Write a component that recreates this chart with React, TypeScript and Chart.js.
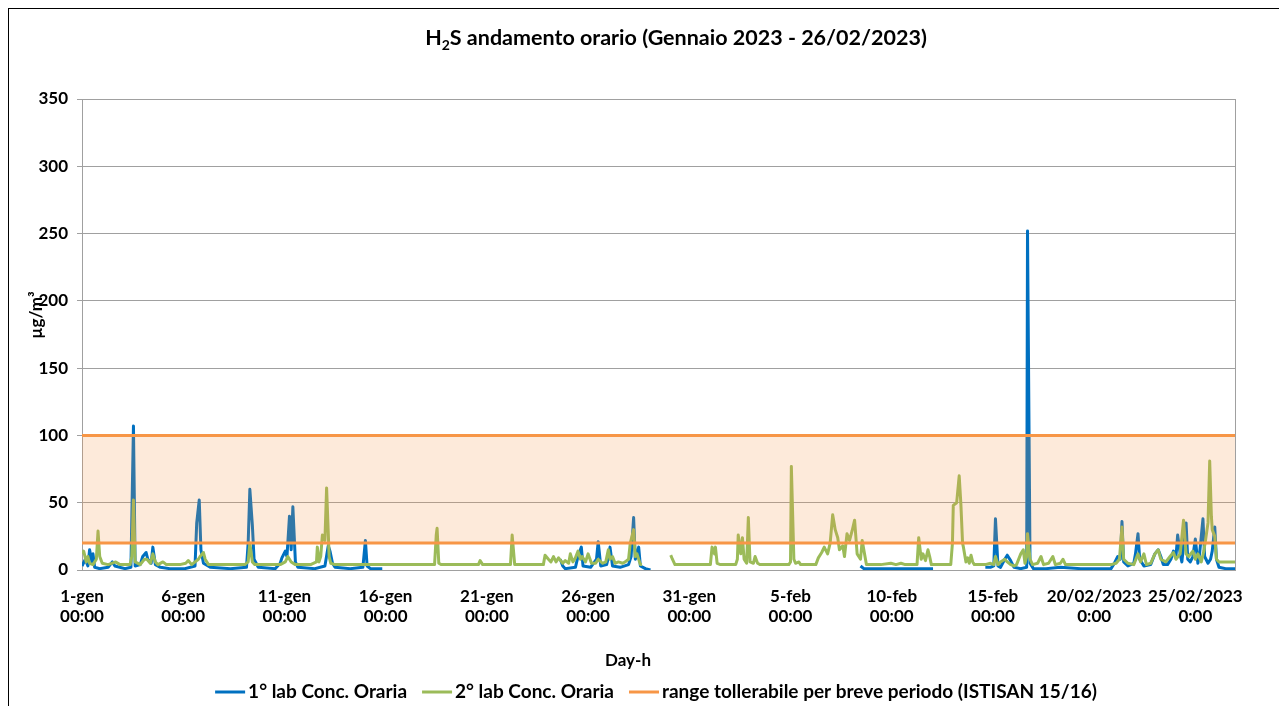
import { useEffect, useRef } from "react";
import { Chart, registerables } from "chart.js";

Chart.register(...registerables);

const FONT = "Lato, 'Open Sans', sans-serif";
const GRID = "#a0a0a0";
const BLUE = "#0070C0";
const GREEN = "#9BBB59";
const ORANGE = "#F79646";
const BAND = "rgba(247,150,70,0.2)";

const titleMain = "H";
const titleSub = "2";
const titleRest = "S andamento orario (Gennaio 2023 - 26/02/2023)";
const yTitle = "µg/m³";
const xTitle = "Day-h";

const seriesLabels = [
  "1° lab Conc. Oraria",
  "2° lab Conc. Oraria",
  "range tollerabile per breve periodo (ISTISAN 15/16)",
];

const tickHours = [0, 120, 240, 360, 480, 600, 720, 840, 960, 1080, 1200, 1320];
const tickLabelsTop = ["1-gen", "6-gen", "11-gen", "16-gen", "21-gen", "26-gen", "31-gen", "5-feb", "10-feb", "15-feb", "20/02/2023", "25/02/2023"];
const tickLabelsBottom = ["00:00", "00:00", "00:00", "00:00", "00:00", "00:00", "00:00", "00:00", "00:00", "00:00", "0:00", "0:00"];

const hourMax = 1367;
const rangeLow = 20;
const rangeHigh = 100;

// 1° lab (hours since 1-gen 00:00, null = missing)
const blueHours = [
  0, 4, 7, 9, 12, 13, 15, 21, 31, 36, 39, 51, 58, 61, 63, 69, 72, 76, 78, 82,
  84, 87, 93, 104, 122, 134, 136, 139, 141, 144, 152, 176, 195, 197, 199, 202, 204, 209, 229, 235,
  237, 241, 243, 246, 248, 250, 253, 256, 276, 288, 292, 294, 297, 300, 318, 333, 336, 338, 342, 356, 360,
  567, 570, 573, 585, 588, 592, 594, 603, 610, 612, 615, 622, 624, 626, 629, 638, 648, 651, 654, 656,
  660, 662, 668, 674, 678,
  923, 927, 959, 982, 1009, 1012,
  1071, 1077, 1081, 1083, 1086, 1089, 1094, 1097, 1101, 1105, 1113, 1120, 1121, 1124, 1128, 1143, 1160, 1184, 1220, 1224,
  1228, 1231, 1233, 1235, 1240, 1247, 1249, 1252, 1254, 1259, 1267, 1272, 1276, 1279, 1282, 1287, 1291, 1294, 1297, 1299,
  1302, 1304, 1306, 1309, 1311, 1314, 1317, 1320, 1323, 1325, 1329, 1331, 1335, 1338, 1340, 1343, 1345, 1348, 1356, 1367,
];
const blueValues = [
  3, 8, 3, 15, 5, 12, 2, 1, 2, 6, 3, 1, 2, 107, 3, 4, 10, 13, 8, 5,
  17, 4, 2, 1, 1, 3, 35, 52, 15, 5, 2, 1, 2, 20, 60, 33, 8, 2, 1, 5,
  9, 14, 10, 40, 15, 47, 6, 2, 1, 3, 18, 14, 5, 2, 1, 2, 22, 3, 1, 1, null,
  8, 3, 1, 2, 10, 17, 3, 2, 8, 21, 3, 4, 9, 17, 3, 2, 4, 10, 39, 8,
  17, 3, 1, 0, null,
  3, 1, 1, 1, 1, null,
  2, 2, 3, 38, 3, 2, 8, 11, 7, 2, 1, 2, 252, 5, 1, 1, 2, 1, 1, 5,
  10, 8, 36, 6, 3, 5, 12, 27, 8, 3, 4, 12, 15, 10, 4, 4, 8, 14, 10, 26,
  12, 6, 18, 35, 8, 6, 10, 23, 5, 12, 38, 10, 5, 8, 14, 32, 8, 2, 1, 1,
];

// 2° lab
const greenHours = [
  0, 2, 5, 7, 9, 13, 17, 19, 21, 24, 31, 40, 45, 57, 59, 61, 63, 69, 74, 77,
  81, 84, 87, 90, 96, 100, 116, 123, 126, 130, 138, 140, 144, 146, 150, 176, 193, 197, 199, 202,
  205, 235, 241, 244, 248, 253, 271, 278, 279, 281, 283, 285, 288, 290, 293, 295, 300, 330, 354, 377,
  407, 418, 420, 421, 423, 426, 449, 470, 472, 475, 496, 508, 510, 513, 532, 547, 549, 553, 556, 559,
  562, 565, 570, 573, 577, 579, 582, 585, 588, 591, 593, 597, 600, 604, 609, 612, 617, 621, 624, 626,
  629, 632, 636, 641, 644, 648, 650, 654, 656, 658, 662, 664, 666,
  698, 700, 703, 721, 745, 747, 750, 751, 753, 757, 775, 777, 778, 781, 783, 785, 788, 790, 792, 796,
  798, 801, 804, 838, 840, 841, 844, 846, 850, 852, 870, 873, 877, 880, 884, 887, 890, 893, 896, 898,
  902, 904, 907, 910, 913, 916, 919, 923, 925, 930, 947, 959, 965, 971, 976, 990, 992, 995, 997, 1000,
  1003, 1005, 1007, 1030, 1032, 1033, 1037, 1040, 1042, 1044, 1045, 1048, 1050, 1052, 1054, 1056, 1058, 1071, 1077, 1081,
  1083, 1086, 1089, 1094, 1097, 1101, 1105, 1108, 1113, 1116, 1118, 1120, 1121, 1124, 1127, 1133, 1137, 1140, 1146, 1151,
  1154, 1160, 1163, 1166, 1184, 1220, 1226, 1230, 1233, 1235, 1240, 1247, 1252, 1255, 1259, 1262, 1267, 1272, 1276, 1279,
  1285, 1290, 1294, 1297, 1302, 1306, 1309, 1312, 1317, 1320, 1323, 1327, 1330, 1332, 1335, 1337, 1339, 1340, 1343, 1345,
  1348, 1356, 1367,
];
const greenValues = [
  12, 14, 6, 10, 5, 4, 8, 29, 10, 5, 4, 6, 4, 4, 10, 52, 6, 4, 8, 8,
  5, 12, 6, 4, 6, 4, 4, 5, 7, 4, 8, 10, 13, 8, 4, 4, 4, 6, 20, 6,
  4, 4, 6, 10, 6, 4, 4, 6, 17, 6, 10, 26, 22, 61, 10, 5, 4, 4, 4, 4,
  4, 4, 26, 31, 5, 4, 4, 4, 7, 4, 4, 4, 26, 4, 4, 4, 11, 8, 6, 10,
  6, 9, 5, 7, 5, 12, 6, 9, 14, 8, 10, 6, 12, 5, 5, 8, 5, 6, 15, 8,
  10, 5, 6, 5, 6, 8, 20, 30, 10, 12, 4, 4, null,
  11, 8, 4, 4, 4, 17, 12, 17, 5, 4, 4, 8, 26, 12, 24, 8, 5, 39, 6, 5,
  10, 5, 4, 4, 6, 77, 8, 5, 6, 4, 4, 9, 13, 17, 12, 20, 41, 30, 24, 15,
  18, 10, 27, 22, 29, 37, 12, 8, 22, 4, 4, 5, 4, 5, 4, 4, 24, 8, 12, 7,
  15, 10, 4, 4, 20, 48, 50, 70, 49, 20, 17, 6, 9, 5, 11, 6, 4, 4, 5, 4,
  10, 4, 6, 8, 6, 4, 3, 4, 12, 15, 5, 10, 27, 8, 4, 5, 10, 4, 5, 10,
  4, 5, 8, 4, 4, 4, 5, 8, 32, 8, 5, 4, 12, 6, 12, 4, 5, 12, 15, 8,
  6, 10, 13, 8, 12, 37, 12, 10, 14, 8, 12, 6, 14, 22, 35, 81, 40, 30, 25, 8,
  6, 6, 6,
];

const toPoints = (xs: number[], ys: (number | null)[]) => xs.map((x, i) => ({ x, y: ys[i] }));

const W = 1272;
const H = 697;

const drawPlugin = {
  id: "customTexts",
  afterDraw(chart: any) {
    const ctx: CanvasRenderingContext2D = chart.ctx;
    const a = chart.chartArea;
    ctx.save();
    // right border of plot area
    ctx.strokeStyle = GRID;
    ctx.lineWidth = 1;
    ctx.beginPath();
    ctx.moveTo(Math.round(a.right) + 0.5, a.top);
    ctx.lineTo(Math.round(a.right) + 0.5, a.bottom);
    ctx.stroke();

    ctx.fillStyle = "#000";
    ctx.textBaseline = "middle";
    ctx.textAlign = "left";
    // title with subscript
    const fMain = `bold 21.5px ${FONT}`;
    const fSub = `bold 14px ${FONT}`;
    ctx.font = fMain;
    const w1 = ctx.measureText(titleMain).width;
    const w3 = ctx.measureText(titleRest).width;
    ctx.font = fSub;
    const w2 = ctx.measureText(titleSub).width;
    const total = w1 + w2 + w3;
    const tx = 667 - total / 2;
    const ty = 29;
    ctx.font = fMain;
    ctx.fillText(titleMain, tx, ty);
    ctx.font = fSub;
    ctx.fillText(titleSub, tx + w1, ty + 7);
    ctx.font = fMain;
    ctx.fillText(titleRest, tx + w1 + w2, ty);

    // y axis title
    ctx.save();
    ctx.translate(28, 306);
    ctx.rotate(-Math.PI / 2);
    ctx.textAlign = "center";
    ctx.font = `bold 17px ${FONT}`;
    ctx.fillText(yTitle, 0, 0);
    ctx.restore();

    // x axis title
    ctx.textAlign = "center";
    ctx.font = `bold 17px ${FONT}`;
    ctx.fillText(xTitle, 619, 652);

    // legend
    const colors = [BLUE, GREEN, ORANGE];
    ctx.font = `bold 19px ${FONT}`;
    const lineLen = 30;
    const gapText = 3;
    const gapItem = 15;
    const widths = seriesLabels.map((l) => lineLen + gapText + ctx.measureText(l).width);
    const tot = widths.reduce((s, v) => s + v, 0) + gapItem * (widths.length - 1);
    let lx = 647 - tot / 2;
    const ly = 683;
    ctx.textAlign = "left";
    seriesLabels.forEach((l, i) => {
      ctx.strokeStyle = colors[i];
      ctx.lineWidth = 3;
      ctx.beginPath();
      ctx.moveTo(lx, ly);
      ctx.lineTo(lx + lineLen, ly);
      ctx.stroke();
      ctx.fillText(l, lx + lineLen + gapText, ly);
      lx += widths[i] + gapItem;
    });
    ctx.restore();
  },
};

export default function App() {
  const ref = useRef<HTMLCanvasElement>(null);
  useEffect(() => {
    const chart = new Chart(ref.current as HTMLCanvasElement, {
      type: "line",
      data: {
        datasets: [
          {
            label: seriesLabels[2],
            data: [{ x: 0, y: rangeHigh }, { x: hourMax, y: rangeHigh }],
            borderColor: ORANGE,
            borderWidth: 3,
            fill: false,
          },
          {
            label: seriesLabels[2] + " (min)",
            data: [{ x: 0, y: rangeLow }, { x: hourMax, y: rangeLow }],
            borderColor: ORANGE,
            borderWidth: 3,
            backgroundColor: BAND,
            fill: "-1",
          },
          {
            label: seriesLabels[1],
            data: toPoints(greenHours, greenValues),
            borderColor: GREEN,
            borderWidth: 3,
            fill: false,
          },
          {
            label: seriesLabels[0],
            data: toPoints(blueHours, blueValues),
            borderColor: BLUE,
            borderWidth: 3,
            fill: false,
          },
        ],
      },
      options: {
        responsive: false,
        animation: false,
        spanGaps: false,
        elements: { point: { radius: 0 }, line: { tension: 0, borderJoinStyle: "round" } },
        layout: { padding: { left: 0, right: 46, top: 90, bottom: 0 } },
        plugins: { legend: { display: false }, title: { display: false }, tooltip: { enabled: false } },
        scales: {
          x: {
            type: "linear",
            min: 0,
            max: hourMax,
            afterFit: (s: any) => {
              s.height = H - 561;
            },
            afterBuildTicks: (s: any) => {
              s.ticks = tickHours.map((v) => ({ value: v }));
            },
            grid: { drawOnChartArea: false, drawTicks: false },
            border: { display: true, color: GRID, width: 1 },
            ticks: {
              autoSkip: false,
              maxRotation: 0,
              minRotation: 0,
              padding: 16,
              color: "#000",
              font: { family: FONT, size: 17, weight: "bold", lineHeight: 1.2 },
              callback: (v: any) => {
                const i = tickHours.indexOf(Number(v));
                return i >= 0 ? [tickLabelsTop[i], tickLabelsBottom[i]] : "";
              },
            },
          },
          y: {
            min: 0,
            max: 350,
            afterFit: (s: any) => {
              s.width = 73;
            },
            grid: { color: GRID, tickLength: 5, lineWidth: 1 },
            border: { display: true, color: GRID, width: 1 },
            ticks: {
              stepSize: 50,
              padding: 9,
              color: "#000",
              font: { family: FONT, size: 17, weight: "bold" },
            },
          },
        },
      },
      plugins: [drawPlugin],
    } as any);
    return () => chart.destroy();
  }, []);
  return (
    <div style={{ width: W, height: H, border: "1px solid #000" }}>
      <canvas ref={ref} width={W} height={H} style={{ display: "block" }} />
    </div>
  );
}
